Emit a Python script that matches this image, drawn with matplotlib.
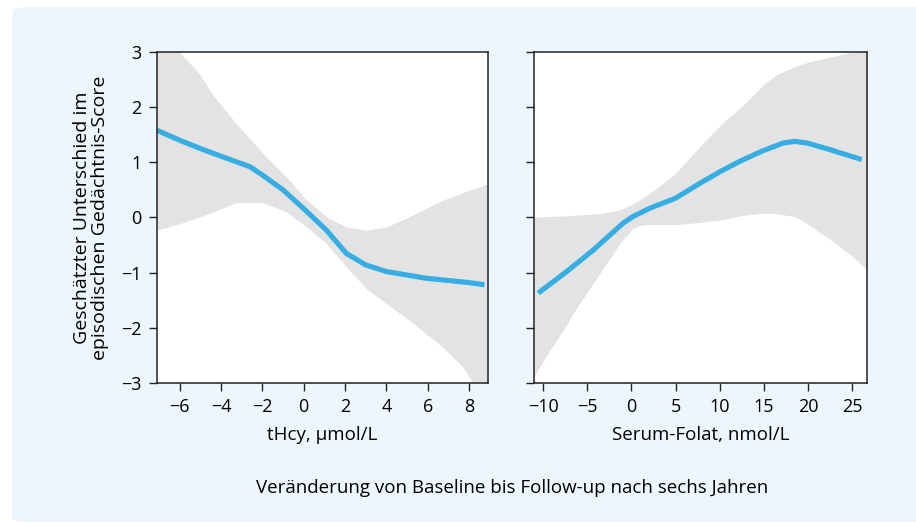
import matplotlib
matplotlib.use("Agg")
import matplotlib.pyplot as plt
from matplotlib.patches import FancyBboxPatch

plt.rcParams["font.family"] = ["Open Sans", "DejaVu Sans"]

# tHcy panel
thcy_x = [-7.1, -6.0, -5.0, -4.0, -2.6, -2.0, -1.0, 0.0, 1.1, 2.06, 3.0, 4.0, 5.9, 8.0, 8.75]
thcy_y = [1.58, 1.40, 1.25, 1.11, 0.92, 0.77, 0.50, 0.16, -0.23, -0.65, -0.86, -0.98, -1.10, -1.18, -1.22]

thcy_band_x = [-7.1, -6.0, -5.0, -4.4, -3.26, -1.97, -0.84, 0.0, 1.1, 2.06, 3.03, 4.0, 5.1, 6.7, 7.7, 8.2, 8.9]
thcy_upper = [3.6, 3.0, 2.58, 2.22, 1.70, 1.16, 0.74, 0.37, 0.01, -0.17, -0.23, -0.17, 0.01, 0.31, 0.45, 0.52, 0.60]
thcy_lower = [-0.23, -0.11, 0.01, 0.10, 0.27, 0.27, 0.10, -0.13, -0.47, -0.89, -1.29, -1.56, -1.86, -2.34, -2.71, -3.0, -3.3]

# Serum-Folat panel
fol_x = [-10.57, -7.35, -4.33, -0.93, 0.2, 2.1, 5.0, 7.76, 10.03, 12.3, 14.9, 17.2, 18.5, 19.9, 22.5, 26.1]
fol_y = [-1.37, -0.98, -0.59, -0.10, 0.02, 0.17, 0.35, 0.62, 0.83, 1.02, 1.21, 1.35, 1.38, 1.35, 1.23, 1.05]

fol_band_x = [-11.05, -9.24, -7.35, -6.6, -3.58, -1.3, 0.2, 1.34, 2.1, 5.0, 7.76, 10.4, 12.7, 14.9, 16.45, 18.3, 19.1, 20.6, 22.9, 23.6, 25.1, 26.7]
fol_upper = [0.0, 0.02, 0.03, 0.04, 0.07, 0.14, 0.25, 0.36, 0.44, 0.80, 1.29, 1.72, 2.04, 2.40, 2.59, 2.72, 2.77, 2.84, 2.92, 2.95, 3.0, 3.1]
fol_lower = [-2.88, -2.40, -1.95, -1.73, -1.01, -0.47, -0.19, -0.13, -0.13, -0.13, -0.09, -0.04, 0.04, 0.08, 0.07, 0.02, -0.03, -0.19, -0.44, -0.53, -0.71, -0.95]

yticks = [-3, -2, -1, 0, 1, 2, 3]
thcy_ticks = [-6, -4, -2, 0, 2, 4, 6, 8]
fol_ticks = [-10, -5, 0, 5, 10, 15, 20, 25]

line_color = "#36ade3"
band_color = "#e3e3e3"
bg_color = "#eef6fd"

fig = plt.figure(figsize=(9.16, 5.23), dpi=100)
fig.patches.append(FancyBboxPatch((12 / 916, 0.002), 1.0, 0.984, boxstyle="round,pad=0,rounding_size=0.012",
                                  transform=fig.transFigure, facecolor=bg_color, edgecolor="none", zorder=-10))

ax1 = fig.add_axes([0.1714, 0.2677, 0.3614, 0.6329])
ax2 = fig.add_axes([0.583, 0.2677, 0.3635, 0.6329])

ax1.fill_between(thcy_band_x, thcy_lower, thcy_upper, color=band_color, lw=0)
ax1.plot(thcy_x, thcy_y, color=line_color, lw=3.7, solid_capstyle="butt")
ax1.set_xlim(-7.1, 8.92)
ax1.set_xticks(thcy_ticks)
ax1.set_xlabel("tHcy, µmol/L", fontsize=13.5, labelpad=7)
ax1.set_ylabel("Geschätzter Unterschied im\nepisodischen Gedächtnis-Score", fontsize=14, labelpad=9, linespacing=1.0)

ax2.fill_between(fol_band_x, fol_lower, fol_upper, color=band_color, lw=0)
ax2.plot(fol_x, fol_y, color=line_color, lw=3.7, solid_capstyle="butt")
ax2.set_xlim(-11.05, 26.7)
ax2.set_xticks(fol_ticks)
ax2.set_xlabel("Serum-Folat, nmol/L", fontsize=13.5, labelpad=7)
ax2.tick_params(axis="y", labelleft=False)

for ax in (ax1, ax2):
    ax.set_ylim(-3, 3)
    ax.set_yticks(yticks)
    ax.set_facecolor("white")
    ax.tick_params(direction="out", length=6, width=1, color="#222222", labelsize=13, pad=5)
    for sp in ax.spines.values():
        sp.set_linewidth(1.1)
        sp.set_color("#222222")

fig.text(0.5590, 0.066, "Veränderung von Baseline bis Follow-up nach sechs Jahren",
         ha="center", va="center", fontsize=13.5)

fig.savefig("out.png", dpi=100)
